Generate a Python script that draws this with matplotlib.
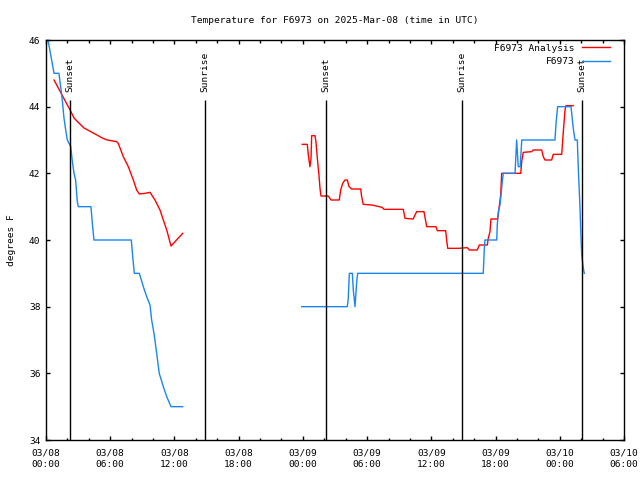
import datetime as dt

import matplotlib
matplotlib.use("Agg")
import matplotlib.pyplot as plt
import matplotlib.dates as mdates

START = dt.datetime(2025, 3, 8, 0, 0)

# hours after 03/08 00:00 UTC, temperature in F
obs_hours_1 = [0.19, 0.75, 1.21, 1.52, 1.68, 1.84, 1.99, 2.31, 2.46, 2.62, 2.77, 2.92, 3.02,
               4.20, 4.33, 4.48, 7.97, 8.10, 8.25, 8.72, 9.09, 9.41, 9.72, 9.87, 10.09,
               10.34, 10.58, 10.96, 11.28, 11.68, 12.77]
obs_temp_1 = [46.0, 45.0, 45.0, 44.2, 43.66, 43.3, 43.0, 42.8, 42.36, 42.0, 41.8, 41.16, 41.0,
              41.0, 40.5, 40.0, 40.0, 39.5, 39.0, 39.0, 38.6, 38.3, 38.05, 37.6, 37.2,
              36.6, 36.0, 35.6, 35.3, 35.0, 35.0]

obs_hours_2 = [23.89, 28.15, 28.24, 28.34, 28.62, 28.71, 28.87, 29.03, 29.12, 40.85, 40.95,
               41.01, 42.11, 42.16, 42.26, 42.41, 42.51, 42.63, 42.72, 43.82, 43.97, 44.12,
               44.30, 44.45, 44.59, 47.55, 47.65, 47.80, 49.05, 49.26, 49.42, 49.64, 49.73,
               49.82, 49.89, 49.95, 50.05, 50.20, 50.29]
obs_temp_2 = [38.0, 38.0, 38.25, 39.0, 39.0, 38.5, 38.0, 38.75, 39.0, 39.0, 39.75,
              40.0, 40.0, 40.45, 40.85, 41.05, 41.35, 41.75, 42.0, 42.0, 43.0, 42.2,
              42.2, 43.0, 43.0, 43.0, 43.5, 44.0, 44.0, 43.35, 43.0, 43.0, 42.15,
              41.5, 40.96, 40.35, 39.55, 39.15, 39.0]

ana_hours_1 = [0.75, 2.15, 2.62, 2.92, 3.55, 4.48, 5.26, 5.73, 6.60, 6.75, 7.22, 7.69, 8.16,
               8.47, 8.72, 9.25, 9.72, 10.18, 10.65, 10.96, 11.28, 11.68, 12.05, 12.77]
ana_temp_1 = [44.8, 43.96, 43.66, 43.56, 43.36, 43.2, 43.06, 43.0, 42.95, 42.9, 42.5, 42.2, 41.8,
              41.5, 41.38, 41.4, 41.43, 41.2, 40.9, 40.6, 40.3, 39.82, 39.95, 40.2]

ana_hours_2 = [23.94, 24.41, 24.51, 24.66, 24.76, 24.82, 25.13, 25.22, 25.35, 25.50, 25.60,
               25.69, 26.37, 26.63, 27.40, 27.53, 27.72, 27.93, 28.15, 28.31, 28.56, 29.40,
               29.49, 29.64, 30.46, 31.39, 31.58, 33.38, 33.54, 34.31, 34.47, 34.63, 35.31,
               35.57, 36.43, 36.56, 37.34, 37.43, 37.53, 38.52, 39.36, 39.55, 40.29, 40.48,
               41.23, 41.32, 41.48, 41.57, 42.20, 42.32, 42.48, 42.57, 44.35, 44.44, 44.59,
               45.37, 45.52, 46.31, 46.46, 46.62, 47.24, 47.39, 48.18, 48.33, 48.49, 48.58,
               49.26]
ana_temp_2 = [42.87, 42.87, 42.55, 42.2, 42.45, 43.13, 43.13, 42.95, 42.45, 41.95, 41.55,
              41.32, 41.32, 41.2, 41.2, 41.5, 41.7, 41.8, 41.8, 41.6, 41.53, 41.53,
              41.3, 41.07, 41.05, 40.98, 40.92, 40.92, 40.65, 40.63, 40.75, 40.85, 40.85,
              40.4, 40.4, 40.28, 40.28, 40.0, 39.75, 39.75, 39.77, 39.7, 39.7, 39.85,
              39.85, 40.05, 40.25, 40.63, 40.63, 40.95, 41.35, 42.0, 42.0, 42.35, 42.63,
              42.65, 42.7, 42.7, 42.5, 42.4, 42.4, 42.57, 42.57, 43.25, 43.9, 44.03,
              44.03]

sun_hours = [2.24, 14.85, 26.16, 38.86, 50.07]
sun_labels = ["Sunset", "Sunrise", "Sunset", "Sunrise", "Sunset"]


def toTimes(hours):
    return [START + dt.timedelta(hours=h) for h in hours]


RED = "#ff0000"
BLUE = "#1a86f0"
FONT = "DejaVu Sans Mono"
FS = 6.8

plt.rcParams["font.family"] = FONT
plt.rcParams["font.size"] = FS

fig = plt.figure(figsize=(6.4, 4.8), dpi=100)
ax = fig.add_axes([46 / 640, 40 / 480, 578 / 640, 400 / 480])

ax.plot(toTimes(ana_hours_1), ana_temp_1, color=RED, lw=1.0, label="F6973 Analysis")
ax.plot(toTimes(ana_hours_2), ana_temp_2, color=RED, lw=1.0)
ax.plot(toTimes(obs_hours_1), obs_temp_1, color=BLUE, lw=1.0, label="F6973")
ax.plot(toTimes(obs_hours_2), obs_temp_2, color=BLUE, lw=1.0)

# sunrise / sunset markers
ax.vlines(toTimes(sun_hours), 34, 44.2, color="black", lw=1.0)
for t, lab in zip(toTimes(sun_hours), sun_labels):
    ax.text(t, 0.87, lab, rotation=90, ha="center", va="bottom",
            transform=ax.get_xaxis_transform(), fontsize=FS)

ax.set_xlim(START, START + dt.timedelta(hours=54))
ax.set_ylim(34, 46)
ax.set_yticks([34, 36, 38, 40, 42, 44, 46])

ax.xaxis.set_major_locator(mdates.HourLocator(byhour=[0, 6, 12, 18]))
ax.xaxis.set_minor_locator(mdates.HourLocator(byhour=range(0, 24, 2)))
ax.xaxis.set_major_formatter(mdates.DateFormatter("%m/%d\n%H:%M"))

ax.tick_params(which="both", direction="in", top=True, right=True, labelsize=FS)
ax.tick_params(which="major", length=3, width=1, pad=6)
ax.tick_params(which="minor", length=1.8, width=1)
ax.tick_params(axis="y", pad=4)
for s in ax.spines.values():
    s.set_linewidth(1.0)

ax.set_ylabel("degrees F", fontsize=FS, labelpad=9)
ax.set_title("Temperature for F6973 on 2025-Mar-08 (time in UTC)", fontsize=FS, pad=12)

ax.legend(loc="upper right", bbox_to_anchor=(1 - 10 / 578, 1.0), markerfirst=False,
          frameon=False, fontsize=FS, handlelength=3.0, handletextpad=0.75,
          labelspacing=0.45, borderaxespad=0.0, borderpad=0.4)

fig.canvas.draw()
for lbl in ax.get_xticklabels():
    lbl.set_linespacing(1.45)

fig.savefig("out.png", dpi=100)
